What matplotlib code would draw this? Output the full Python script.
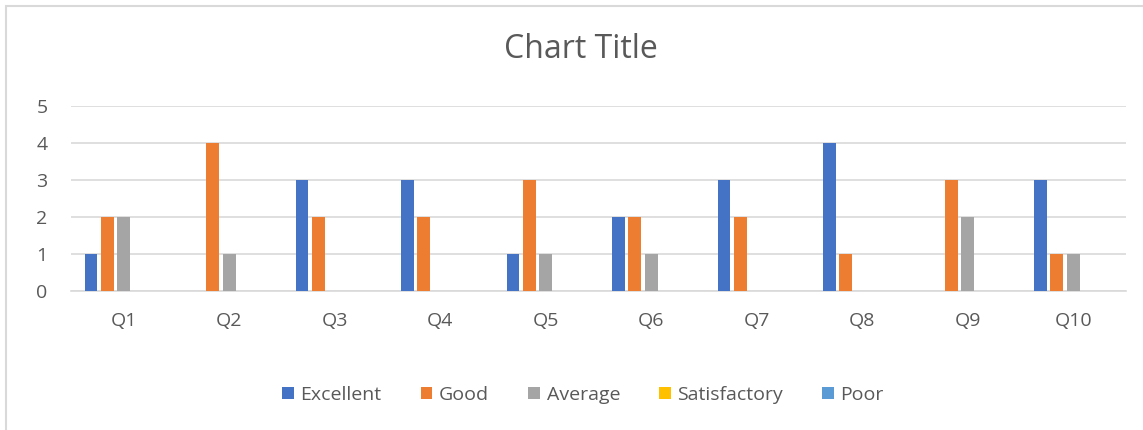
import numpy as np
import matplotlib
matplotlib.use("Agg")
import matplotlib.pyplot as plt
from matplotlib.patches import Rectangle

# 数据
questions = ["Q1", "Q2", "Q3", "Q4", "Q5", "Q6", "Q7", "Q8", "Q9", "Q10"]
excellent = [1, 0, 3, 3, 1, 2, 3, 4, 0, 3]
good = [2, 4, 2, 2, 3, 2, 2, 1, 3, 1]
average = [2, 1, 0, 0, 1, 1, 0, 0, 2, 1]
satisfactory = [0, 0, 0, 0, 0, 0, 0, 0, 0, 0]
poor = [0, 0, 0, 0, 0, 0, 0, 0, 0, 0]
series_names = ["Excellent", "Good", "Average", "Satisfactory", "Poor"]
series_colors = ["#4472c4", "#ed7d31", "#a5a5a5", "#ffc000", "#5b9bd5"]

plt.rcParams["font.family"] = ["Open Sans", "DejaVu Sans"]
text_color = "#595959"
grid_color = "#d9d9d9"

fig = plt.figure(figsize=(11.43, 4.30), dpi=100)
# 外框
fig.patches.append(Rectangle((6 / 1143, -0.01), 1.02, 1 - 6 / 430 + 0.01,
                             transform=fig.transFigure, fill=False,
                             edgecolor=grid_color, linewidth=1.5))

ax = fig.add_axes([71 / 1143, 1 - 291 / 430, 1055 / 1143, 185 / 430])

x = np.arange(len(questions))
step = 0.156
width = 0.12
all_series = [excellent, good, average, satisfactory, poor]
for i, (vals, name, col) in enumerate(zip(all_series, series_names, series_colors)):
    ax.bar(x + (i - 2) * step, vals, width=width, color=col, label=name, zorder=3)

ax.set_xlim(-0.5, len(questions) - 0.5)
ax.set_ylim(0, 5)
ax.set_yticks(range(6))
ax.set_xticks(x)
ax.set_xticklabels(questions)
ax.tick_params(axis="x", length=0, labelsize=14, colors=text_color, pad=15)
ax.tick_params(axis="y", length=0, labelsize=14, colors=text_color, pad=17)
ax.grid(axis="y", color=grid_color, linewidth=1.2, zorder=0)
for s in ["top", "right", "left"]:
    ax.spines[s].set_visible(False)
ax.spines["bottom"].set_color(grid_color)
ax.spines["bottom"].set_linewidth(1.2)

fig.text(581 / 1143, 1 - 50 / 430, "Chart Title", ha="center", va="center",
         fontsize=23, color=text_color)

handles, labels = ax.get_legend_handles_labels()
fig.legend(handles, labels, loc="center", bbox_to_anchor=(583 / 1143, 1 - 395 / 430),
           ncol=5, frameon=False, fontsize=14, labelcolor=text_color,
           handlelength=0.6, handleheight=0.6, handletextpad=0.35, columnspacing=2.0)

plt.savefig("out.png", dpi=100)
plt.close()
